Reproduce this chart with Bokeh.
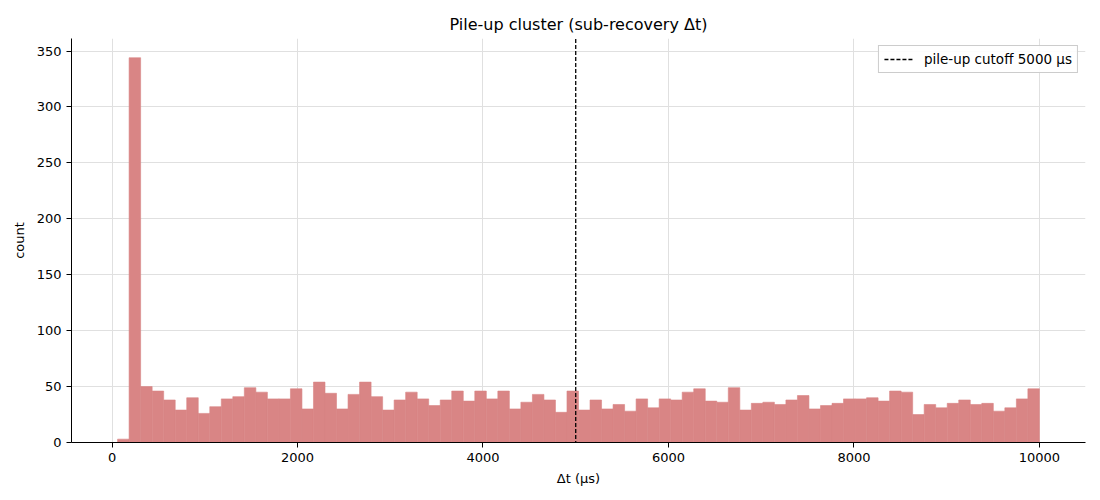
import numpy as np
from bokeh.plotting import figure
from bokeh.models import Range1d, Legend, LegendItem, FixedTicker
from bokeh.embed import file_html
from bokeh.resources import INLINE

# Histogram data
bin_start = 60.0
bin_end = 10000.0
n_bins = 80
counts = [3, 344, 50, 46, 38, 29, 40, 26, 32, 39,
          41, 49, 45, 39, 39, 48, 30, 54, 44, 30,
          43, 54, 41, 29, 38, 45, 39, 33, 38, 46,
          37, 46, 39, 46, 30, 36, 43, 38, 27, 46,
          29, 38, 30, 34, 28, 39, 31, 39, 38, 45,
          48, 37, 36, 49, 29, 35, 36, 34, 38, 42,
          30, 33, 35, 39, 39, 40, 37, 46, 45, 25,
          34, 31, 35, 38, 34, 35, 28, 31, 39, 48]
cutoff = 5000
x_ticks = [0, 2000, 4000, 6000, 8000, 10000]
y_ticks = [0, 50, 100, 150, 200, 250, 300, 350]

edges = np.linspace(bin_start, bin_end, n_bins + 1)
lefts = edges[:-1]
rights = edges[1:]

FONT = "DejaVu Sans"
span = bin_end - bin_start
p = figure(width=1092, height=492, output_backend="svg", toolbar_location=None,
           x_range=Range1d(bin_start - 0.05 * span, bin_end + 0.05 * span),
           y_range=Range1d(0, max(counts) * 1.05),
           title="Pile-up cluster (sub-recovery Δt)",
           min_border_left=71, min_border_right=7, min_border_top=38, min_border_bottom=50)

p.title.align = "center"
p.title.text_font = FONT
p.title.text_font_size = "16px"
p.title.text_font_style = "normal"
p.title.text_color = "black"

p.quad(left=lefts, right=rights, bottom=0, top=counts,
       fill_color="#d98585", fill_alpha=1.0, line_color="#d98585", line_width=0.6)

vline = p.segment(x0=[cutoff], x1=[cutoff], y0=[-1000], y1=[1000],
                  line_color="black", line_dash="4 2", line_width=1.3)

legend = Legend(items=[LegendItem(label="pile-up cutoff 5000 µs", renderers=[vline])],
                location="top_right")
legend.label_text_font = FONT
legend.label_text_font_size = "13.5px"
legend.label_text_color = "black"
legend.border_line_color = "#cccccc"
legend.border_line_alpha = 1.0
legend.background_fill_alpha = 0.9
legend.glyph_width = 30
legend.glyph_height = 14
legend.label_height = 14
legend.padding = 5
legend.margin = 7
legend.label_standoff = 10
legend.spacing = 0
p.add_layout(legend)

p.outline_line_color = None
p.xgrid.grid_line_color = "#e0e0e0"
p.ygrid.grid_line_color = "#e0e0e0"
p.xgrid.ticker = FixedTicker(ticks=x_ticks)
p.ygrid.ticker = FixedTicker(ticks=y_ticks)

for ax in (p.xaxis[0], p.yaxis[0]):
    ax.axis_line_color = "black"
    ax.major_tick_line_color = "black"
    ax.major_tick_in = 0
    ax.major_tick_out = 5
    ax.minor_tick_line_color = None
    ax.major_label_text_font = FONT
    ax.major_label_text_font_size = "13px"
    ax.major_label_text_color = "black"
    ax.axis_label_text_font = FONT
    ax.axis_label_text_font_size = "13px"
    ax.axis_label_text_font_style = "normal"
    ax.axis_label_text_color = "black"

p.xaxis[0].ticker = FixedTicker(ticks=x_ticks)
p.yaxis[0].ticker = FixedTicker(ticks=y_ticks)
p.xaxis[0].axis_label = "Δt (µs)"
p.yaxis[0].axis_label = "count"
p.xaxis[0].axis_label_standoff = 6
p.yaxis[0].axis_label_standoff = 7
p.yaxis[0].major_label_orientation = "horizontal"

open("out.html", "w").write(file_html(p, INLINE))
